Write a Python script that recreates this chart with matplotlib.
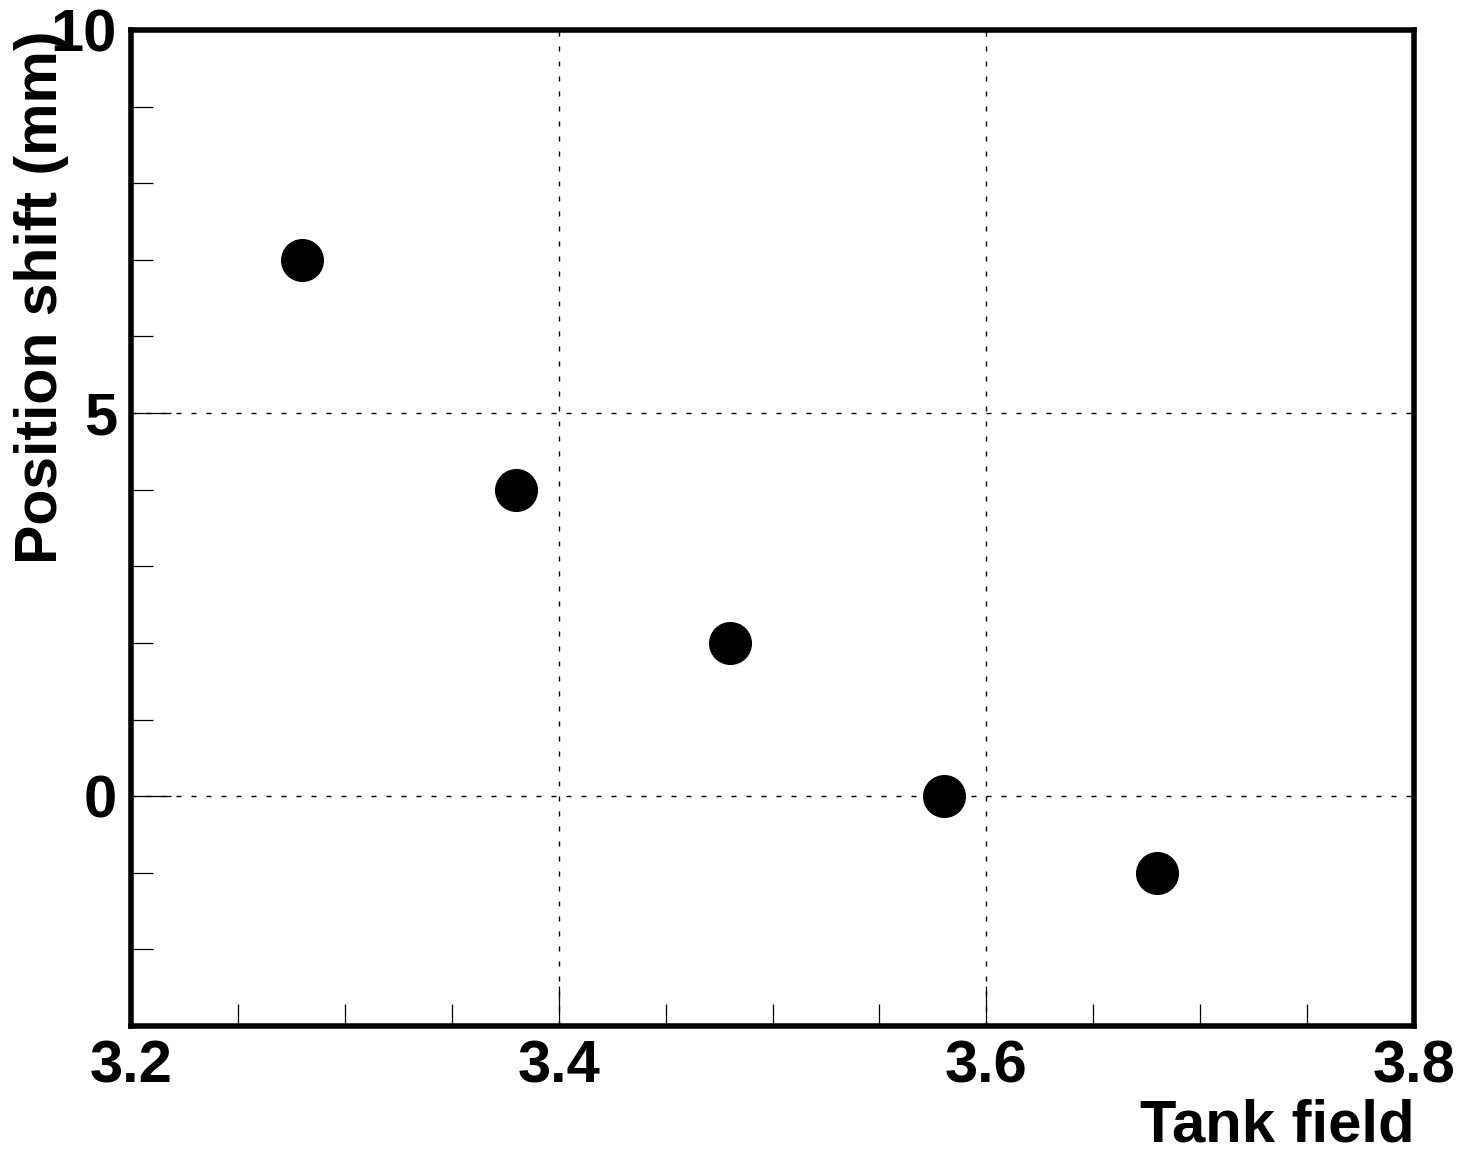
import matplotlib.pyplot as plt
import numpy as np
from matplotlib.ticker import MultipleLocator

# Data
tank_field = [3.28, 3.38, 3.48, 3.58, 3.68]
position_shift = [7.0, 4.0, 2.0, 0.0, -1.0]

x_ticks = [3.2, 3.4, 3.6, 3.8]
x_tick_labels = ['3.2', '3.4', '3.6', '3.8']
y_ticks = [0, 5, 10]
y_tick_labels = ['0', '5', '10']

plt.rcParams['font.family'] = ['Liberation Sans', 'DejaVu Sans']
plt.rcParams['font.weight'] = 'bold'

fig = plt.figure(figsize=(14.61, 11.5), dpi=100)
ax = fig.add_axes([131 / 1461, 1 - 1026 / 1150, 1283 / 1461, 996 / 1150])

ax.plot(tank_field, position_shift, 'o', color='black', markersize=30)

ax.set_xlim(3.2, 3.8)
ax.set_ylim(-3, 10)
ax.set_xticks(x_ticks)
ax.set_xticklabels(x_tick_labels)
ax.set_yticks(y_ticks)
ax.set_yticklabels(y_tick_labels)
ax.xaxis.set_minor_locator(MultipleLocator(0.05))
ax.yaxis.set_minor_locator(MultipleLocator(1))

ax.tick_params(which='both', direction='in', top=False, right=False,
               width=0.9, color='black', labelsize=43)
ax.tick_params(which='major', length=29, pad=10)
ax.tick_params(which='minor', length=16)
for lab in ax.get_xticklabels() + ax.get_yticklabels():
    lab.set_fontweight('bold')

for sp in ax.spines.values():
    sp.set_linewidth(4)

ax.grid(True, which='major', color='black', linestyle=(0, (3.6, 7.2)), linewidth=1)

fig.text(1414 / 1461, 1 - 1142 / 1150, 'Tank field', ha='right', va='baseline',
         fontsize=43, fontweight='bold')
fig.text(42 / 1461, 1 - 30 / 1150, 'Position shift (mm)', rotation=90,
         ha='center', va='top', fontsize=42.5, fontweight='bold')

fig.savefig('out.png', dpi=100)
